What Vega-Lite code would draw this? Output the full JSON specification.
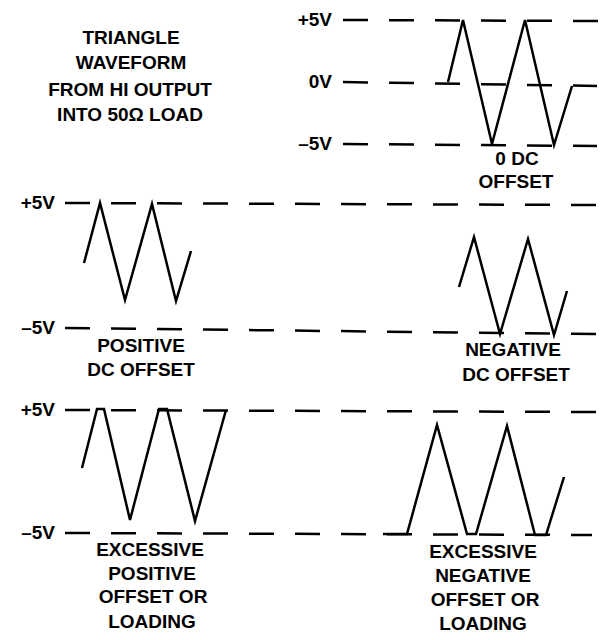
{
  "$schema": "https://vega.github.io/schema/vega-lite/v6.json",
  "width": 604,
  "height": 640,
  "padding": 0,
  "autosize": {"type": "fit", "contains": "padding"},
  "background": "white",
  "config": {"view": {"stroke": null}},
  "datasets": {
    "levels": [
      {"x1": 343, "x2": 598, "y1": 20, "y2": 21},
      {"x1": 343, "x2": 597, "y1": 82, "y2": 86},
      {"x1": 343, "x2": 597, "y1": 144, "y2": 146},
      {"x1": 65, "x2": 598, "y1": 203, "y2": 205},
      {"x1": 65, "x2": 596, "y1": 328, "y2": 334},
      {"x1": 65, "x2": 598, "y1": 410, "y2": 412},
      {"x1": 65, "x2": 592, "y1": 533, "y2": 535}
    ],
    "waves": [
      {"w": "zero", "i": 0, "t": 448, "v": 82},
      {"w": "zero", "i": 1, "t": 463, "v": 20},
      {"w": "zero", "i": 2, "t": 492, "v": 144},
      {"w": "zero", "i": 3, "t": 525, "v": 20},
      {"w": "zero", "i": 4, "t": 554, "v": 145},
      {"w": "zero", "i": 5, "t": 572, "v": 86},
      {"w": "pos", "i": 0, "t": 84, "v": 263},
      {"w": "pos", "i": 1, "t": 100, "v": 203},
      {"w": "pos", "i": 2, "t": 125, "v": 300},
      {"w": "pos", "i": 3, "t": 152, "v": 204},
      {"w": "pos", "i": 4, "t": 176, "v": 301},
      {"w": "pos", "i": 5, "t": 191, "v": 251},
      {"w": "neg", "i": 0, "t": 459, "v": 287},
      {"w": "neg", "i": 1, "t": 474, "v": 237},
      {"w": "neg", "i": 2, "t": 500, "v": 334},
      {"w": "neg", "i": 3, "t": 528, "v": 239},
      {"w": "neg", "i": 4, "t": 554, "v": 335},
      {"w": "neg", "i": 5, "t": 567, "v": 291},
      {"w": "xpos", "i": 0, "t": 82, "v": 468},
      {"w": "xpos", "i": 1, "t": 97, "v": 409},
      {"w": "xpos", "i": 2, "t": 104, "v": 409},
      {"w": "xpos", "i": 3, "t": 130, "v": 520},
      {"w": "xpos", "i": 4, "t": 159, "v": 409},
      {"w": "xpos", "i": 5, "t": 167, "v": 409},
      {"w": "xpos", "i": 6, "t": 195, "v": 521},
      {"w": "xpos", "i": 7, "t": 226, "v": 410},
      {"w": "xneg", "i": 0, "t": 383, "v": 534},
      {"w": "xneg", "i": 1, "t": 407, "v": 534},
      {"w": "xneg", "i": 2, "t": 437, "v": 425},
      {"w": "xneg", "i": 3, "t": 467, "v": 534},
      {"w": "xneg", "i": 4, "t": 476, "v": 534},
      {"w": "xneg", "i": 5, "t": 507, "v": 426},
      {"w": "xneg", "i": 6, "t": 535, "v": 535},
      {"w": "xneg", "i": 7, "t": 546, "v": 535},
      {"w": "xneg", "i": 8, "t": 564, "v": 477}
    ],
    "captions": [
      {"text": "TRIANGLE", "x": 131, "y": 38},
      {"text": "WAVEFORM", "x": 131, "y": 63},
      {"text": "FROM HI OUTPUT", "x": 130, "y": 90},
      {"text": "INTO 50Ω LOAD", "x": 130, "y": 115},
      {"text": "0 DC", "x": 517, "y": 159},
      {"text": "OFFSET", "x": 516, "y": 182},
      {"text": "POSITIVE", "x": 141, "y": 346},
      {"text": "DC OFFSET", "x": 141, "y": 370},
      {"text": "NEGATIVE", "x": 513, "y": 350},
      {"text": "DC OFFSET", "x": 516, "y": 375},
      {"text": "EXCESSIVE", "x": 150, "y": 550},
      {"text": "POSITIVE", "x": 152, "y": 574},
      {"text": "OFFSET OR", "x": 153, "y": 597},
      {"text": "LOADING", "x": 152, "y": 622},
      {"text": "EXCESSIVE", "x": 483, "y": 552},
      {"text": "NEGATIVE", "x": 483, "y": 576},
      {"text": "OFFSET OR", "x": 485, "y": 600},
      {"text": "LOADING", "x": 483, "y": 624}
    ],
    "volts": [
      {"text": "+5V", "x": 332, "y": 20},
      {"text": "0V", "x": 332, "y": 82},
      {"text": "–5V", "x": 332, "y": 144},
      {"text": "+5V", "x": 55, "y": 203},
      {"text": "–5V", "x": 55, "y": 328},
      {"text": "+5V", "x": 55, "y": 410},
      {"text": "–5V", "x": 55, "y": 533}
    ]
  },
  "layer": [
    {
      "data": {"name": "levels"},
      "mark": {"type": "rule", "color": "black", "strokeWidth": 2.5, "strokeDash": [25, 21]},
      "encoding": {
        "x": {"field": "x1", "type": "quantitative", "scale": {"domain": [0, 604], "nice": false, "zero": false}, "axis": null},
        "x2": {"field": "x2"},
        "y": {"field": "y1", "type": "quantitative", "scale": {"domain": [0, 640], "nice": false, "zero": false, "reverse": true}, "axis": null},
        "y2": {"field": "y2"}
      }
    },
    {
      "data": {"name": "waves"},
      "mark": {"type": "line", "color": "black", "strokeWidth": 2.5, "strokeJoin": "miter"},
      "encoding": {
        "x": {"field": "t", "type": "quantitative"},
        "y": {"field": "v", "type": "quantitative"},
        "detail": {"field": "w"},
        "order": {"field": "i", "type": "quantitative"}
      }
    },
    {
      "data": {"name": "captions"},
      "mark": {"type": "text", "font": "Liberation Sans", "fontWeight": "bold", "fontSize": 19, "align": "center", "baseline": "middle", "color": "black"},
      "encoding": {
        "x": {"field": "x", "type": "quantitative"},
        "y": {"field": "y", "type": "quantitative"},
        "text": {"field": "text"}
      }
    },
    {
      "data": {"name": "volts"},
      "mark": {"type": "text", "font": "Liberation Sans", "fontWeight": "bold", "fontSize": 19, "align": "right", "baseline": "middle", "color": "black"},
      "encoding": {
        "x": {"field": "x", "type": "quantitative"},
        "y": {"field": "y", "type": "quantitative"},
        "text": {"field": "text"}
      }
    }
  ]
}
